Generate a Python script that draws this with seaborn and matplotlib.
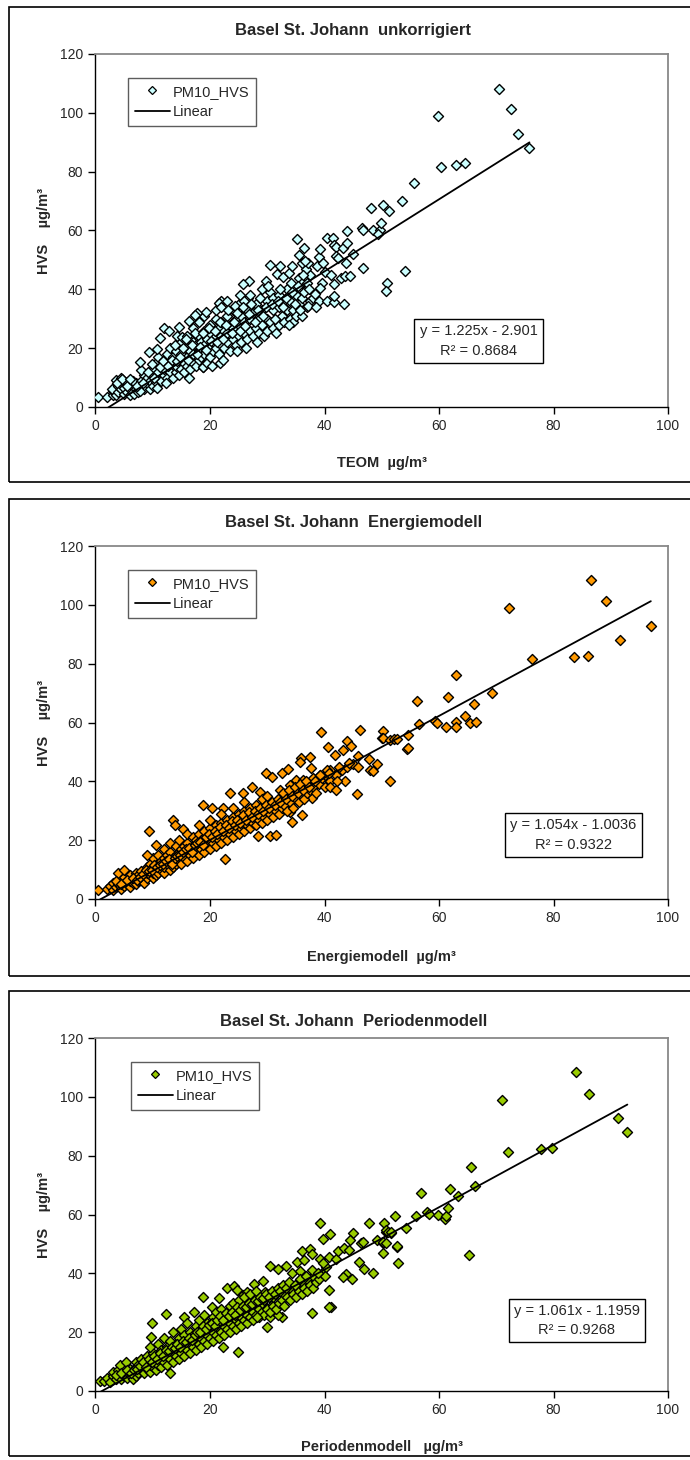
import numpy as np
import pandas as pd
import matplotlib
matplotlib.use("Agg")
import matplotlib.pyplot as plt
import seaborn as sns
from matplotlib.lines import Line2D
from matplotlib.patches import Rectangle

# PM10 daily values Basel St. Johann as (x, HVS)
teom_points = [
    (0.5, 3.3), (2, 3.3), (3, 4), (3, 5.5), (2.8, 6), (3.5, 9.2), (4.5, 9.7),
    (3.5, 4), (4, 5), (4, 7), (4.5, 6), (3.8, 8), (5, 4.5), (5, 6.5), (5.5, 5), (5.5, 8.5), (4.6, 9.5),
    (6, 4), (6, 6), (6.2, 7.5), (6.5, 5), (7, 6), (7, 8), (6.8, 4.5), (6.5, 9),
    (7.5, 5), (8, 7), (8, 9), (8.5, 6), (8.5, 11), (9, 8), (9, 10), (8, 12.5), (7.7, 5.5), (7.8, 15.4),
    (9.5, 6), (9.5, 9), (10, 7), (10, 11), (10, 13), (10.5, 8.5), (10.5, 15), (11, 10), (11, 12), (11, 17), (10.7, 6.5),
    (9.4, 18.7), (10.8, 19.8), (11.3, 23.4), (11.9, 26.8), (12.8, 25.9),
    (11.5, 9), (11.5, 14), (12, 11), (12, 13), (12, 16), (12.5, 10), (12.5, 18), (13, 12), (13, 15), (13, 20), (12.3, 8),
    (13.5, 10), (13.5, 17), (14, 12), (14, 14), (14, 19), (14.5, 11), (14.5, 16), (15, 13), (15, 18), (15, 22), (14.3, 24),
    (14.6, 27.1), (16.4, 29.3), (15.1, 23.8),
    (15.5, 12), (15.5, 15), (16, 14), (16, 17), (16, 20), (16, 24), (16.5, 13), (16.5, 19), (17, 15), (17, 18), (17, 22), (17, 27), (16.3, 10),
    (17.5, 14), (17.5, 21), (18, 16), (18, 19), (18, 24), (18, 29), (18.5, 17), (18.5, 22), (19, 18), (19, 21), (19, 26), (19, 31), (18.7, 13.5),
    (17.7, 31.9), (17.3, 31.4), (19.3, 32.4), (18.8, 13.7),
    (19.5, 15), (19.5, 23), (20, 17), (20, 20), (20, 25), (20, 28), (20.5, 19), (20.5, 22), (21, 20), (21, 24), (21, 30), (21, 33), (20.3, 14),
    (21.8, 14.9), (22, 36.1), (21.5, 35.3),
    (21.5, 18), (21.5, 27), (22, 21), (22, 24), (22, 29), (22, 34), (22.5, 20), (22.5, 26), (23, 22), (23, 25), (23, 31), (23, 36), (22.3, 16),
    (23.5, 19), (23.5, 28), (24, 23), (24, 27), (24, 33), (24.5, 21), (24.5, 30), (25, 24), (25, 28), (25, 35), (24.7, 19),
    (24.3, 34.5), (25.2, 38.2), (26.6, 37), (26.8, 42.9), (25.8, 41.9),
    (25.5, 22), (25.5, 31), (26, 25), (26, 29), (26, 36), (26.5, 23), (26.5, 33), (27, 26), (27, 30), (27, 38), (26.3, 20),
    (27.5, 24), (27.5, 32), (28, 27), (28, 35), (28.5, 25), (28.5, 30), (29, 28), (29, 33), (29, 40), (28.2, 22),
    (29.7, 42.9), (30.4, 48.3), (29.5, 24), (30, 26), (30, 30), (30, 36), (30.5, 29), (30.5, 39), (31, 27), (31, 33), (31, 37), (31.5, 25),
    (32, 28), (32, 34), (32, 38), (32.5, 31), (33, 29), (33, 36), (33.5, 33), (33.5, 40),
    (31.7, 45.3), (32.2, 47.9), (32.7, 44.2), (33.8, 45.7), (34.1, 42.3), (34.3, 48.1),
    (34, 30), (34, 36), (34.5, 29), (34.5, 33), (35, 31), (35, 38), (35.5, 35), (35.5, 44),
    (36, 31), (36, 37), (36, 42), (36.5, 39), (37, 34), (37, 42), (37.5, 36), (37.5, 45), (36.8, 47),
    (5.5, 7), (6, 9.5), (7.3, 7), (8.3, 8), (9.2, 12), (9.8, 14.5), (10.3, 10), (11.2, 13.5), (11.8, 15.5),
    (12.7, 14), (13.3, 16), (13.8, 21), (14.2, 15.5), (14.8, 17), (15.3, 20), (15.8, 23), (16.2, 16),
    (16.8, 21), (17.3, 25), (17.8, 18), (18.3, 20.5), (18.8, 25), (19.3, 19.5), (19.8, 27), (20.2, 22.5),
    (20.8, 26), (21.3, 22), (21.8, 29), (22.2, 23), (22.8, 28), (23.2, 33), (23.8, 25), (24.2, 29),
    (24.8, 32), (25.2, 26), (25.8, 34), (26.2, 27.5), (26.8, 31.5), (27.2, 35), (27.8, 29), (28.3, 33),
    (28.8, 37), (29.3, 31), (29.8, 34), (30.2, 41), (30.8, 35), (31.3, 30), (31.8, 36), (32.3, 40),
    (32.8, 34), (33.3, 37), (33.8, 28), (34.3, 39), (34.8, 35), (35.3, 41), (35.8, 33), (36.3, 45),
    (37.3, 40), (38, 37), (39, 36), (39.5, 42), (40, 46), (38.7, 48),
    (37.1, 34.2), (38.5, 34), (38.4, 38.4), (39.2, 40.4), (40.4, 36.2), (41.7, 35.7), (43.4, 35.1),
    (41.7, 37.9), (41.7, 41.8), (35.2, 57.2), (35.6, 51.7), (36.4, 54), (36.1, 49.1), (37.2, 49.1),
    (36.6, 49.8), (39, 51.1), (39.8, 49), (39.2, 53.7), (40.5, 57.3), (41.5, 57.3), (41.7, 55.1),
    (42, 54.5), (43.2, 54), (43.9, 55.9), (42, 51.2), (42.4, 50.6), (43.8, 48.9), (45, 52.1),
    (41.1, 44.9), (42.9, 44), (43.5, 44.4), (44.4, 44.7), (43.9, 59.7), (46.7, 47.3),
    (46.6, 60.7), (46.8, 60.2), (48.4, 60), (49.7, 60.1), (49.3, 58.8), (49.8, 62.5),
    (48.1, 67.5), (50.2, 68.8), (51.2, 66.6), (53.5, 70.1), (55.7, 76.3), (54, 46.3),
    (50.9, 42.3), (50.8, 39.4), (60.4, 81.5), (62.9, 82.4), (64.5, 82.8), (59.8, 98.9),
    (70.4, 108.2), (72.5, 101.2), (73.8, 92.9), (75.8, 88.2),
]

energie_points = [
    (0.5, 3.1), (2, 3.5), (2.5, 4.5), (3, 3), (3, 5.5), (3.5, 4), (4, 5), (4, 6.5), (4.5, 3.5), (5, 4.5), (5, 6), (5, 7.5),
    (4, 8.7), (4.9, 9.9),
    (5.5, 5), (6, 4), (6, 6), (6, 8), (6.5, 5.5), (7, 5), (7, 7), (7, 9), (7.5, 6), (7.5, 8), (8, 6.5), (8, 9.5),
    (8.5, 7.5), (8.5, 5.5), (9, 7), (9, 9), (9, 11), (9.5, 8), (9.5, 12), (10, 7), (10, 9), (10, 11), (10, 14),
    (10.5, 8), (10.5, 10), (11, 9), (11, 12), (11, 15), (9, 15), (10.6, 18.4), (9.4, 23.2),
    (11.5, 10), (11.5, 13), (12, 9), (12, 11), (12, 14), (12, 17), (12.5, 12), (12.5, 15), (13, 10), (13, 13),
    (13, 16), (13, 19), (13.5, 11), (13.5, 14), (14, 12), (14, 15), (14, 18),
    (13.6, 26.9), (13.9, 25.2), (15.3, 23.7),
    (14.5, 13), (14.5, 16), (14.5, 20), (15, 12), (15, 15), (15, 17), (15.5, 14), (15.5, 18), (16, 13), (16, 16),
    (16, 19), (16, 22), (16.5, 15), (16.5, 17), (17, 14), (17, 18), (17, 21),
    (17.5, 16), (17.5, 20), (18, 15), (18, 18), (18, 22), (18, 25), (18.5, 17), (18.5, 20), (19, 16), (19, 19),
    (19, 23), (19.5, 18), (19.5, 21), (20, 17), (20, 20), (20, 24), (20, 27),
    (18.8, 32), (20.3, 30.8), (22.3, 30.8), (22.6, 13.5),
    (20.5, 19), (20.5, 22), (21, 18), (21, 21), (21, 25), (21.5, 20), (21.5, 23), (22, 19), (22, 22), (22, 26),
    (22, 29), (22.5, 21), (22.5, 24), (23, 20), (23, 23), (23, 27),
    (23.5, 36), (25.8, 36), (27.3, 38.2), (28.7, 36.5),
    (23.5, 22), (23.5, 25), (24, 21), (24, 24), (24, 28), (24, 31), (24.5, 23), (24.5, 26), (25, 22), (25, 25),
    (25, 29), (25.5, 24), (25.5, 27), (26, 23), (26, 26), (26, 30), (26, 33),
    (26.5, 25), (26.5, 28), (27, 24), (27, 27), (27, 31), (27.5, 26), (27.5, 29), (28, 25), (28, 28), (28, 32),
    (28.5, 27), (28.5, 30), (29, 26), (29, 29), (29, 34),
    (28.4, 21.4), (30.5, 21.4), (31.6, 21.8),
    (29.5, 28), (29.5, 31), (30, 27), (30, 30), (30, 35), (30.5, 29), (31, 28), (31, 32), (31.5, 30), (32, 29),
    (32, 33), (32.5, 31), (33, 32), (33, 35),
    (29.7, 42.8), (30.8, 41.6), (32.6, 42.8), (33.6, 44.1), (32.2, 37.1), (33.9, 38.8), (35, 40.5), (36.3, 40.5),
    (34, 29.7), (34.3, 26.3), (36, 28.6), (36.9, 35.4), (37.8, 34.2),
    (33.5, 30), (34, 33), (34, 36), (34.5, 31), (35, 34), (35, 37), (35.5, 33), (36, 35), (36, 38), (36.5, 34),
    (37, 36), (37, 39), (37.5, 37), (38, 38), (38, 41),
    (38.5, 36), (39, 39), (39.5, 41), (40, 38), (40, 42), (41, 40), (41, 44), (42, 42), (43, 44), (44, 45),
    (45, 46), (43.5, 40),
    (3.5, 6), (4.5, 5), (5.5, 6.5), (6.5, 7), (7.2, 6.5), (7.8, 7.5), (8.3, 8.5), (8.8, 10), (9.3, 9.5),
    (9.8, 10), (10.3, 11.5), (10.8, 11), (11.3, 11.5), (11.8, 12), (12.3, 13), (12.8, 13.5), (13.3, 12),
    (13.8, 14), (14.3, 14.5), (14.8, 15), (15.3, 16), (15.8, 17), (16.3, 17.5), (16.8, 16), (17.3, 18.5),
    (17.8, 19), (18.3, 19.5), (18.8, 18.5), (19.3, 21), (19.8, 22), (20.3, 21), (20.8, 23), (21.3, 22),
    (21.8, 24.5), (22.3, 23), (22.8, 25), (23.3, 24), (23.8, 26.5), (24.3, 25), (24.8, 27), (25.3, 26),
    (25.8, 28.5), (26.3, 27), (26.8, 29.5), (27.3, 28), (27.8, 30), (28.3, 29), (28.8, 31), (29.3, 30),
    (29.8, 32), (30.3, 31), (30.8, 33), (31.3, 32), (31.8, 34), (32.3, 33), (32.8, 36), (33.3, 34),
    (33.8, 37), (34.3, 35), (34.8, 38), (35.3, 36), (35.8, 39), (36.3, 37), (36.8, 40), (37.3, 38),
    (38.3, 40), (39.3, 42), (40.5, 44), (42.5, 45),
    (37.6, 44.4), (39.2, 42.2), (40.8, 43), (41, 38.2), (42, 37.1), (42.1, 40.1), (45.6, 35.6), (51.4, 40.1),
    (35.9, 47.9), (35.7, 46.7), (37.5, 48.2), (39.4, 56.9), (40.6, 51.8), (41.8, 49),
    (43.9, 53.7), (44.6, 52), (43.3, 50.7), (44.3, 46.4), (45.9, 44.8), (45.8, 48.6), (47.8, 47.5),
    (49.2, 45.8), (47.9, 43.9), (48.4, 43.6), (46.2, 57.3), (50.3, 57.1), (50.1, 54.9), (54.4, 50.9),
    (50.2, 54.7), (51.4, 54.1), (52.1, 54.3), (52.7, 54.5), (54.5, 51.3), (54.6, 55.7),
    (56.5, 59.5), (59.3, 60.6), (59.6, 59.7), (61.3, 58.6), (63, 60.3), (63, 58.6), (64.6, 62.2),
    (65.5, 60), (66.5, 60.1), (56.2, 67.2), (61.5, 68.6), (66.2, 66.3), (69.2, 70), (63, 76.2),
    (76.2, 81.5), (83.5, 82.4), (86.1, 82.7), (72.3, 99), (86.6, 108.3), (89.1, 101.3),
    (91.6, 88.1), (97, 92.9),
]

perioden_points = [
    (0.8, 3.3), (1.5, 3.5), (2, 4.5), (2.5, 3), (3, 5), (3, 6.5), (3.5, 4), (4, 5.5), (4, 7), (4.5, 4), (5, 5),
    (5, 6.5), (5, 8), (4.3, 8.8), (5.4, 10),
    (5.5, 4.5), (6, 5.5), (6, 7.5), (6.5, 4), (6.5, 6.5), (7, 5), (7, 8), (7, 10), (7.5, 6), (7.5, 9), (8, 7), (8, 11),
    (8.5, 6), (8.5, 9), (9, 7.5), (9, 10), (9, 12), (9.5, 6.5), (9.5, 9), (10, 8), (10, 11), (10, 13), (10.5, 7),
    (10.5, 10), (11, 9), (11, 12), (11, 16), (9.7, 18.5), (9.5, 15.1), (9.8, 23),
    (11.5, 8), (11.5, 11), (11.5, 14), (12, 10), (12, 13), (12, 18), (12.5, 9), (12.5, 12), (12.5, 15), (13, 11),
    (13, 14), (13, 17), (13.5, 10), (13.5, 13), (13.5, 20), (14, 12), (14, 16), (13.1, 6),
    (12.4, 26.2), (15.5, 25.3), (17.2, 26.8),
    (14.5, 11), (14.5, 14), (14.5, 18), (15, 13), (15, 16), (15, 21), (15.5, 12), (15.5, 15), (15.5, 19), (16, 14),
    (16, 17), (16, 23), (16.5, 13), (16.5, 16), (16.5, 20), (17, 15), (17, 19),
    (17.5, 14), (17.5, 17), (17.5, 22), (18, 16), (18, 19), (18, 24), (18.5, 15), (18.5, 18), (18.5, 21), (19, 17),
    (19, 20), (19, 26), (19.5, 16), (19.5, 19), (19.5, 23), (20, 18), (20, 21),
    (18.8, 31.9), (21.6, 31.7), (20.3, 28.7), (22.3, 14.9), (24.9, 13.4),
    (20.5, 17), (20.5, 20), (20.5, 25), (21, 19), (21, 22), (21, 27), (21.5, 18), (21.5, 21), (21.5, 24), (22, 20),
    (22, 23), (22, 28), (22.5, 19), (22.5, 22), (22.5, 26), (23, 21), (23, 24),
    (22.9, 35.1), (24.2, 35.8), (24.7, 34.4), (25.8, 32.7), (26.4, 33.8),
    (23.5, 20), (23.5, 23), (23.5, 29), (24, 22), (24, 25), (24, 30), (24.5, 21), (24.5, 24), (24.5, 27), (25, 23),
    (25, 26), (25, 31), (25.5, 22), (25.5, 25), (26, 24), (26, 27), (26, 32),
    (26.5, 23), (26.5, 26), (27, 25), (27, 28), (27, 33), (27.5, 24), (27.5, 27), (28, 26), (28, 29), (28.5, 25),
    (28.5, 28), (29, 27), (29, 30), (29.5, 26), (29.5, 31),
    (27.7, 36.4), (29.3, 37.5), (29.6, 33.8), (28, 34.1), (29.9, 21.9), (28.2, 25.3), (30.5, 25.3),
    (32.6, 25.3), (31.9, 25.9), (30.8, 29.3),
    (30, 28), (30, 33), (30.5, 27), (31, 29), (31, 32), (31.5, 28), (32, 30), (32, 34), (32.5, 31), (33, 29),
    (33, 33), (33.5, 32), (34, 31), (34, 35),
    (33.3, 42.5), (31.8, 41.4), (30.4, 42.6), (35.2, 44), (36.5, 44.6), (34.3, 40.2), (35.7, 40.8),
    (34.5, 33), (35, 32), (35, 36), (35.5, 34), (36, 33), (36, 37), (36.5, 35), (37, 34), (37, 38), (37.5, 36),
    (38, 35), (38, 39), (38.5, 37), (39, 38), (39.5, 40), (40, 39),
    (3.5, 5.5), (4.5, 6), (5.5, 7), (6.2, 6), (6.8, 7), (7.3, 7.5), (7.8, 8.5), (8.3, 10), (8.8, 8),
    (9.3, 11), (9.8, 10), (10.3, 12), (10.8, 11), (11.3, 13), (11.8, 12), (12.3, 14), (12.8, 13.5),
    (13.3, 15), (13.8, 14.5), (14.3, 16), (14.8, 15), (15.3, 17), (15.8, 16.5), (16.3, 18), (16.8, 17.5),
    (17.3, 19), (17.8, 20), (18.3, 20), (18.8, 22), (19.3, 21), (19.8, 22.5), (20.3, 23), (20.8, 22),
    (21.3, 24), (21.8, 25.5), (22.3, 24), (22.8, 26.5), (23.3, 25.5), (23.8, 27), (24.3, 26), (24.8, 28.5),
    (25.3, 27.5), (25.8, 29), (26.3, 28.5), (26.8, 30), (27.3, 29.5), (27.8, 31), (28.3, 30.5), (28.8, 32),
    (29.3, 31.5), (29.8, 33), (30.3, 32), (30.8, 34), (31.3, 33), (31.8, 35), (32.3, 34), (32.8, 36),
    (33.3, 35), (33.8, 37), (34.8, 36), (35.8, 38), (36.8, 39), (37.8, 41), (38.8, 40), (40.2, 42),
    (36.1, 47.6), (37.5, 48.2), (37.9, 46.5), (39.2, 44.8), (39.8, 43.4), (40.8, 45.5), (42, 44.8),
    (42.4, 47.7), (43.4, 48.5), (40.7, 34.4), (41.1, 28.5), (40.8, 28.7), (37.8, 26.4),
    (43.8, 39.8), (44.8, 38), (43.3, 38.9), (48.5, 40), (46.9, 41.5), (46.1, 44),
    (39.2, 57), (47.8, 57), (50.4, 57), (52.4, 59.5), (41, 53.4), (39.8, 51.6), (45, 53.8), (44.5, 51.4),
    (44.2, 48), (46.4, 50.4), (46.7, 50.8), (49.1, 51.4), (50.3, 50.4), (50.7, 54.2), (51, 54.2),
    (51.7, 53.6), (50.3, 47), (52.6, 49.1), (52.8, 43.6),
    (50.7, 54.8), (51.1, 54.2), (51.7, 54), (50.3, 50.8), (50.7, 50.4), (52.7, 49.3), (54.2, 55.5),
    (56, 59.6), (57.9, 60.8), (58.3, 60.2), (59.8, 59.9), (61.1, 58.5), (61.3, 59.6), (61.6, 62.1),
    (56.9, 67.2), (62, 68.6), (63.3, 66.3), (65.2, 46.2), (66.3, 69.8), (65.6, 76.1),
    (72, 81.2), (77.8, 82.2), (79.7, 82.6), (71, 98.8), (83.9, 108.3), (86.2, 100.9),
    (91.3, 92.7), (92.9, 88),
]

panel_points = [teom_points, energie_points, perioden_points]
titles = [
    "Basel St. Johann  unkorrigiert",
    "Basel St. Johann  Energiemodell",
    "Basel St. Johann  Periodenmodell",
]
xlabels = ["TEOM  µg/m³", "Energiemodell  µg/m³", "Periodenmodell   µg/m³"]
ylabel = "HVS    µg/m³"
marker_colors = ["#CCFFFF", "#FF9900", "#99CC00"]
slopes = [1.225, 1.054, 1.061]
intercepts = [-2.901, -1.0036, -1.1959]
eq_labels = [
    "y = 1.225x - 2.901\nR² = 0.8684",
    "y = 1.054x - 1.0036\nR² = 0.9322",
    "y = 1.061x - 1.1959\nR² = 0.9268",
]

sns.set_theme(style="white")
plt.rcParams["font.family"] = ["Liberation Sans", "DejaVu Sans"]

W, H = 690, 1460
fig = plt.figure(figsize=(W / 100, H / 100), dpi=100)

# pixel layout of each panel (top-left origin)
ax_left, ax_right = 95.5, 668
ax_tops = [54, 546, 1038]
ax_bottoms = [407, 899, 1391]
frames = [(9, 7, 482), (9, 499, 976), (9, 991, 1456)]
title_y = [31, 523, 1022]
xlabel_y = [-0.138, -0.145, -0.14]
eq_pos = [(66.9, 22.4), (83.5, 21.7), (84.1, 24.0)]

for i in range(3):
    x0, top, bot = frames[i]
    fig.add_artist(Rectangle((x0 / W, 1 - bot / H), (W + 10 - x0) / W, (bot - top) / H,
                             transform=fig.transFigure, fill=False, ec="black", lw=1.2))

    ax = fig.add_axes([ax_left / W, 1 - ax_bottoms[i] / H,
                       (ax_right - ax_left) / W, (ax_bottoms[i] - ax_tops[i]) / H])
    df = pd.DataFrame(panel_points[i], columns=["x", "hvs"])

    sns.scatterplot(data=df, x="x", y="hvs", ax=ax, marker="D", s=26,
                    color=marker_colors[i], edgecolor="black", linewidth=1.0, zorder=3)

    # Excel linear trendline over the x range of the data
    line_x = np.array([df["x"].min(), df["x"].max()])
    line_df = pd.DataFrame({"x": line_x, "y": slopes[i] * line_x + intercepts[i]})
    sns.lineplot(data=line_df, x="x", y="y", ax=ax, color="black", lw=1.3, zorder=4)

    ax.set_xlim(0, 100)
    ax.set_ylim(0, 120)
    ax.set_xticks(range(0, 101, 20))
    ax.set_yticks(range(0, 121, 20))
    ax.tick_params(axis="both", direction="out", length=5, width=1, color="black",
                   labelsize=10, pad=4, bottom=True, left=True)
    for side in ["top", "right"]:
        ax.spines[side].set_color("#888888")
        ax.spines[side].set_linewidth(1.3)
    for side in ["left", "bottom"]:
        ax.spines[side].set_color("black")
        ax.spines[side].set_linewidth(1.0)

    ax.set_xlabel(xlabels[i], fontsize=10.5, fontweight="bold")
    ax.set_ylabel(ylabel, fontsize=10.5, fontweight="bold")
    ax.xaxis.set_label_coords(0.5, xlabel_y[i])
    ax.yaxis.set_label_coords(-0.078, 0.5)
    fig.text(0.512, 1 - title_y[i] / H, titles[i], ha="center", va="center",
             fontsize=12, fontweight="bold")

    handles = [
        Line2D([], [], marker="D", ls="", ms=4, mfc=marker_colors[i], mec="black", mew=0.9),
        Line2D([], [], color="black", lw=1.3),
    ]
    leg = ax.legend(handles, ["PM10_HVS", "Linear"], loc="upper left",
                    bbox_to_anchor=(0.057 + (0.005 if i == 2 else 0), 0.932),
                    borderaxespad=0, fontsize=10.5, frameon=True, fancybox=False,
                    edgecolor="#333333", handlelength=2.4, handletextpad=0.2,
                    borderpad=0.45, labelspacing=0.45)
    leg.get_frame().set_linewidth(1.0)

    ex, ey = eq_pos[i]
    ax.text(ex, ey, eq_labels[i], ha="center", va="center", fontsize=10.5,
            multialignment="center", linespacing=1.5, zorder=5,
            bbox=dict(boxstyle="square,pad=0.35", fc="white", ec="black", lw=1.0))

fig.savefig("out.png", dpi=100)
